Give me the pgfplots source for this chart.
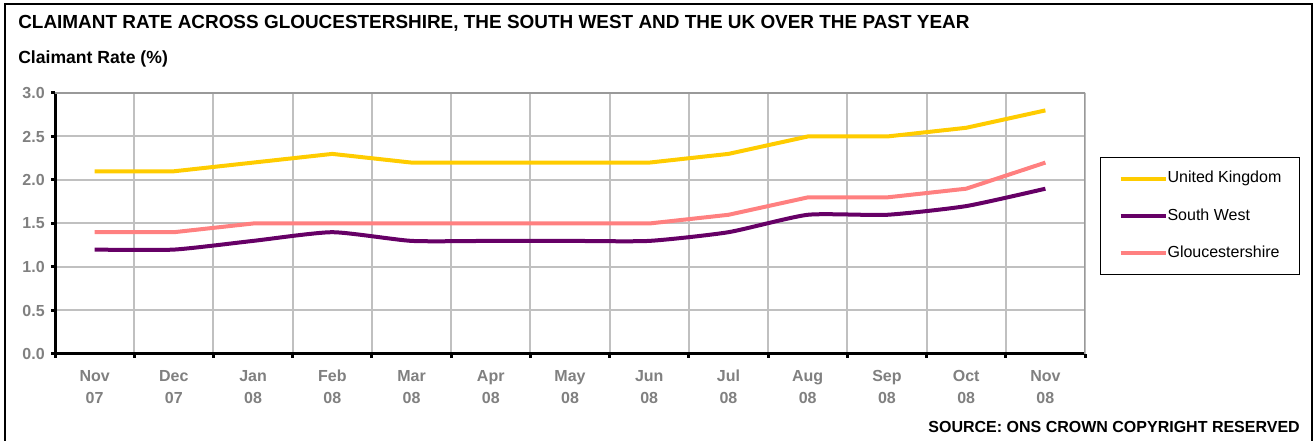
\documentclass[border=0pt]{standalone}
\usepackage{fontspec}
\setmainfont{Liberation Sans}
\usepackage{pgfplots}
\pgfplotsset{compat=1.18}
\definecolor{ukc}{HTML}{FFCC00}
\definecolor{swc}{HTML}{660066}
\definecolor{glc}{HTML}{FF8080}
\definecolor{gridc}{HTML}{C0C0C0}
\definecolor{tickc}{HTML}{808080}
\definecolor{borderc}{HTML}{999999}
\begin{document}
\begin{tikzpicture}
\useasboundingbox (0,0) rectangle (985.5bp,330.75bp);
\draw[line width=1.5bp] (3.75bp,-2bp) -- (3.75bp,327.75bp) -- (984bp,327.75bp) -- (984bp,-2bp);
\node[anchor=base west, font=\fontsize{14.2bp}{16bp}\selectfont\bfseries, inner sep=0pt] at (13.5bp,309bp) {CLAIMANT RATE ACROSS GLOUCESTERSHIRE, THE SOUTH WEST AND THE UK OVER THE PAST YEAR};
\node[anchor=base west, font=\fontsize{13.2bp}{15bp}\selectfont\bfseries, inner sep=0pt] at (13.5bp,282.75bp) {Claimant Rate (\%)};
\node[anchor=base east, font=\fontsize{12bp}{14bp}\selectfont\bfseries, inner sep=0pt] at (975bp,6.75bp) {SOURCE: ONS CROWN COPYRIGHT RESERVED};
\begin{axis}[
  at={(41.25bp,65.25bp)}, anchor=south west,
  scale only axis, width=772.5bp, height=195.75bp,
  xmin=-0.5, xmax=12.5, ymin=0, ymax=3,
  axis x line*=bottom, axis y line*=left,
  axis line style={line width=2.25bp, black, -},
  xtick={0,1,2,3,4,5,6,7,8,9,10,11,12},
  xticklabels={{Nov\\07},{Dec\\07},{Jan\\08},{Feb\\08},{Mar\\08},{Apr\\08},{May\\08},{Jun\\08},{Jul\\08},{Aug\\08},{Sep\\08},{Oct\\08},{Nov\\08}},
  minor xtick={-0.5,0.5,1.5,2.5,3.5,4.5,5.5,6.5,7.5,8.5,9.5,10.5,11.5,12.5},
  ytick={0,0.5,1,1.5,2,2.5,3},
  xminorgrids, ymajorgrids,
  grid style={gridc, line width=1.5bp},
  minor grid style={gridc, line width=1.5bp},
  tick align=outside,
  major tick length=3bp, minor tick length=3bp,
  major x tick style={draw=none},
  minor x tick style={black, line width=2.25bp},
  ytick style={black, line width=2.25bp},
  yticklabel style={/pgf/number format/.cd, fixed, fixed zerofill, precision=1, /tikz/.cd, inner sep=0pt, xshift=-4.5bp},
  /pgf/number format/assume math mode=true,
  ticklabel style={font=\fontsize{12bp}{16.5bp}\selectfont\bfseries, text=tickc},
  xticklabel style={align=center, inner sep=0pt, yshift=-9bp},
  legend style={at={(1.0146,0.7548)}, anchor=north west, draw=black, line width=0.75bp, fill=white,
    inner xsep=13.5bp, inner ysep=10bp, row sep=16bp, column sep=0bp,
    font=\fontsize{12bp}{14bp}\selectfont,
    nodes={inner sep=0pt, text height=9bp, text depth=3bp}},
  legend cell align=left,
  legend image code/.code={\draw[#1, line width=3bp] (0bp,0bp) -- (33.75bp,0bp);},
]
\addplot[ukc, line width=3bp] coordinates {(0,2.1) (1,2.1) (2,2.2) (3,2.3) (4,2.2) (5,2.2) (6,2.2) (7,2.2) (8,2.3) (9,2.5) (10,2.5) (11,2.6) (12,2.8)};
\addlegendentry{United Kingdom}
\addplot[swc, line width=3bp, smooth, tension=0.35] coordinates {(0,1.2) (1,1.2) (2,1.3) (3,1.4) (4,1.3) (5,1.3) (6,1.3) (7,1.3) (8,1.4) (9,1.6) (10,1.6) (11,1.7) (12,1.9)};
\addlegendentry{South West}
\addplot[glc, line width=3bp] coordinates {(0,1.4) (1,1.4) (2,1.5) (3,1.5) (4,1.5) (5,1.5) (6,1.5) (7,1.5) (8,1.6) (9,1.8) (10,1.8) (11,1.9) (12,2.2)};
\addlegendentry{Gloucestershire}
\draw[borderc, line width=1.5bp] (rel axis cs:0,1) -- (rel axis cs:1,1) -- (rel axis cs:1,0);
\end{axis}
\end{tikzpicture}
\end{document}
